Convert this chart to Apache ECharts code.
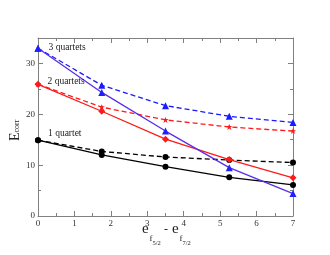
<!DOCTYPE html>
<html><head><meta charset="utf-8">
<script src="https://cdn.jsdelivr.net/npm/echarts@6/dist/echarts.min.js"></script>
<style>html,body{margin:0;padding:0;background:#fff}#c{width:330px;height:255px}</style>
</head><body><div id="c"></div>
<script>
const xValues = [0, 1.75, 3.5, 5.25, 7];
const xTicks = [0, 1, 2, 3, 4, 5, 6, 7];
const yTicks = [0, 10, 20, 30];
const oneQuartetSolid = [14.9, 12.0, 9.7, 7.6, 6.1];
const oneQuartetDashed = [14.9, 12.7, 11.6, 11.0, 10.5];
const twoQuartetsSolid = [25.9, 20.6, 15.1, 11.1, 7.5];
const twoQuartetsDashed = [25.9, 21.4, 18.9, 17.5, 16.7];
const threeQuartetsSolid = [33.0, 24.3, 16.7, 9.5, 4.4];
const threeQuartetsDashed = [33.0, 25.7, 21.7, 19.6, 18.4];
const seriesLabels = ['1 quartet', '2 quartets', '3 quartets'];

const serif = '"Liberation Serif", "DejaVu Serif", serif';
const pair = (ys) => xValues.map((x, i) => [x, ys[i]]);
const starPath = 'path://M0,-10 L3,-3 L10,-3 L4,2 L7,10 L0,5 L-7,10 L-4,2 L-10,-3 L-3,-3 Z';

function withLabel(ys, text, offset) {
  const d = pair(ys);
  d[0] = { value: d[0], label: { show: true, formatter: text, position: 'right', offset: offset,
    fontFamily: serif, fontSize: 9.5, color: '#222' } };
  return d;
}

function mk(name, data, lineColor, markColor, dashed, symbol, size) {
  return { name, type: 'line', data, symbol, symbolSize: size, z: dashed ? 3 : 4,
    lineStyle: { color: lineColor, width: 1.3, type: dashed ? [5, 3] : 'solid' },
    itemStyle: { color: markColor }, animation: false };
}

const axisLine = { show: true, onZero: false, lineStyle: { color: '#808080', width: 1 } };
const tick = { inside: true, length: 5, lineStyle: { color: '#808080' } };
const minor = { show: true, splitNumber: 2, length: 3, lineStyle: { color: '#808080' } };
const chart = echarts.init(document.getElementById('c'), null, { renderer: 'canvas' });
chart.setOption({
  backgroundColor: '#fff',
  grid: { left: 38, right: 37, top: 38, bottom: 39 },
  xAxis: [
    { type: 'value', min: 0, max: 7, interval: 1, axisLine, axisTick: tick, minorTick: minor,
      axisLabel: { fontFamily: serif, fontSize: 9, color: '#333', margin: 3, customValues: xTicks },
      splitLine: { show: false } },
    { type: 'value', position: 'top', min: 0, max: 7, interval: 1, axisLine, axisTick: tick,
      minorTick: minor, axisLabel: { show: false }, splitLine: { show: false } }
  ],
  yAxis: [
    { type: 'value', min: 0, max: 35, interval: 10, axisLine, axisTick: tick, minorTick: minor,
      axisLabel: { fontFamily: serif, fontSize: 9, color: '#333', margin: 3, customValues: yTicks },
      splitLine: { show: false } },
    { type: 'value', position: 'right', min: 0, max: 35, interval: 10, axisLine, axisTick: tick,
      minorTick: minor, axisLabel: { show: false }, splitLine: { show: false } }
  ],
  series: [
    mk('1q dashed', pair(oneQuartetDashed), '#000', '#000', true, 'circle', 6),
    mk('1q solid', withLabel(oneQuartetSolid, seriesLabels[0], [2, -7]), '#000', '#000', false, 'circle', 6),
    mk('2q dashed', pair(twoQuartetsDashed), '#ff1a1a', '#ff1a1a', true, starPath, 6),
    mk('2q solid', withLabel(twoQuartetsSolid, seriesLabels[1], [1, -3]), '#ff1a1a', '#ff1a1a', false, 'diamond', 7),
    mk('3q dashed', withLabel(threeQuartetsDashed, seriesLabels[2], [2, -1]), '#1a1aff', '#1a1aff', true, 'triangle', 7),
    mk('3q solid', pair(threeQuartetsSolid), '#5a2ee6', '#2020ff', false, 'triangle', 7)
  ],
  graphic: [
    { type: 'text', x: 8, y: 141, rotation: Math.PI / 2, style: {
      text: '{e|E}{s|corr}', fill: '#222', align: 'left', verticalAlign: 'top',
      rich: { e: { fontFamily: serif, fontSize: 14 }, s: { fontFamily: serif, fontSize: 8, padding: [3, 0, 0, 0] } } } },
    { type: 'text', x: 142, y: 237, style: { text: 'e', fontFamily: serif, fontSize: 15, fill: '#222', verticalAlign: 'bottom' } },
    { type: 'text', x: 149.5, y: 243, style: { text: 'f', fontFamily: serif, fontSize: 9, fill: '#222', verticalAlign: 'bottom' } },
    { type: 'text', x: 152.5, y: 247, style: { text: '5/2', fontFamily: serif, fontSize: 6.5, fill: '#222', verticalAlign: 'bottom' } },
    { type: 'text', x: 164, y: 236, style: { text: '-', fontFamily: serif, fontSize: 12, fill: '#222', verticalAlign: 'bottom' } },
    { type: 'text', x: 172, y: 237, style: { text: 'e', fontFamily: serif, fontSize: 15, fill: '#222', verticalAlign: 'bottom' } },
    { type: 'text', x: 179.5, y: 243, style: { text: 'f', fontFamily: serif, fontSize: 9, fill: '#222', verticalAlign: 'bottom' } },
    { type: 'text', x: 182.5, y: 247, style: { text: '7/2', fontFamily: serif, fontSize: 6.5, fill: '#222', verticalAlign: 'bottom' } }
  ]
});
</script></body></html>
